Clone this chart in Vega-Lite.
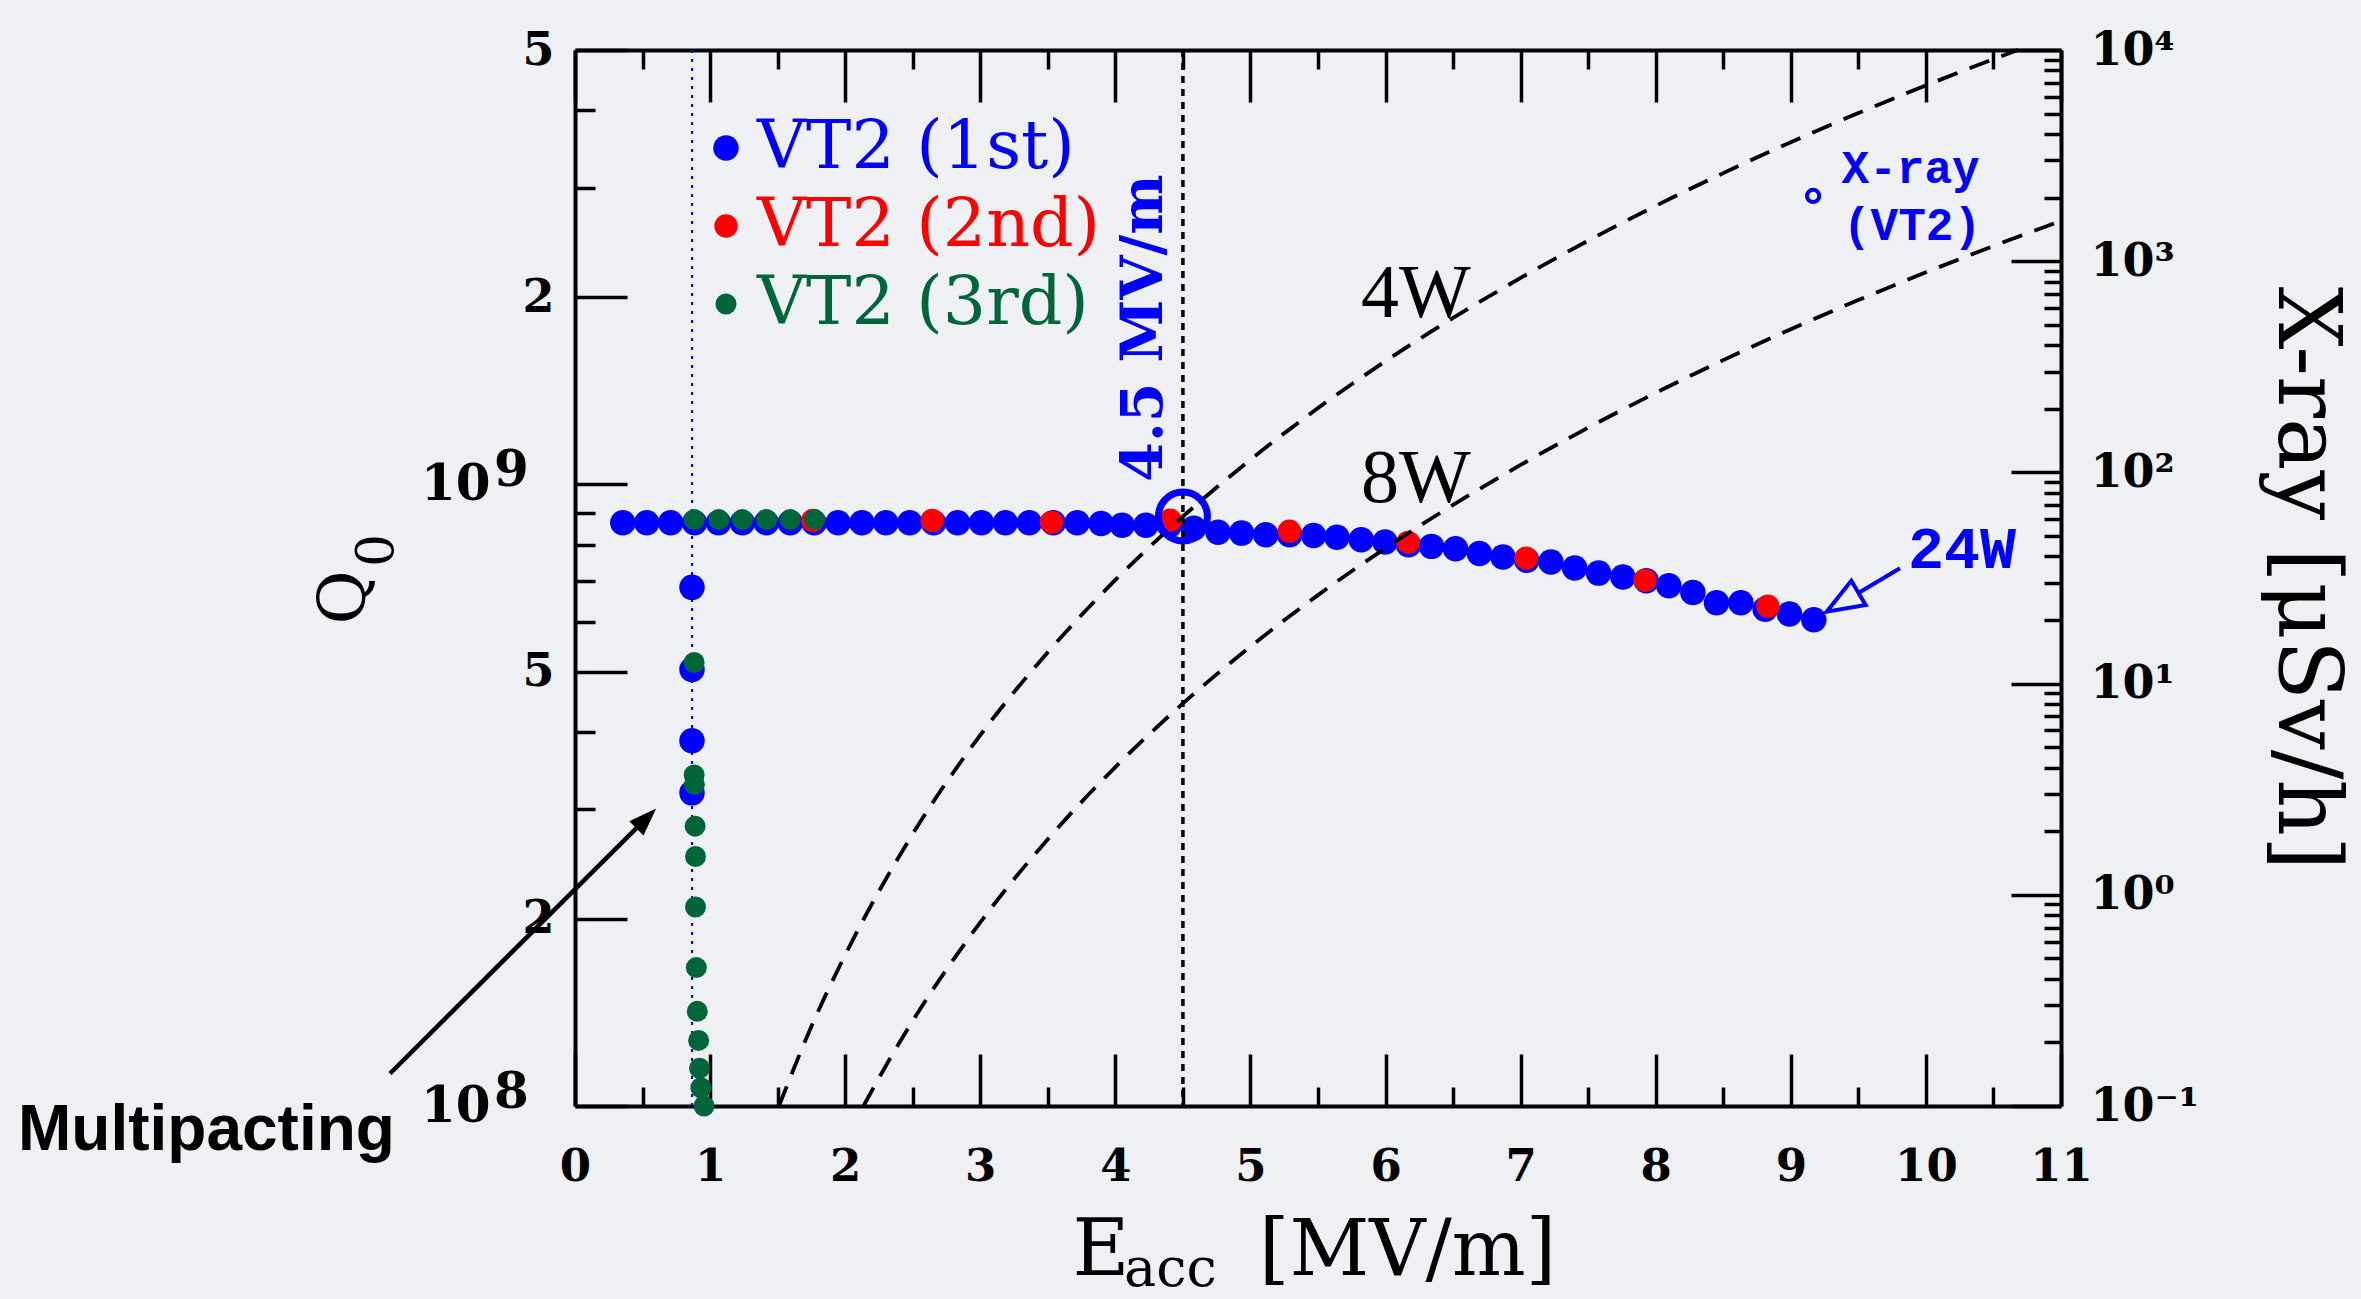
{
  "$schema": "https://vega.github.io/schema/vega-lite/v6.json",
  "width": 1486,
  "height": 1056,
  "autosize": "none",
  "padding": {"left": 575, "top": 50, "right": 300, "bottom": 193},
  "background": "#eef0f3",
  "config": {
    "view": {"stroke": null},
    "axis": {"grid": false, "domainColor": "#000000", "domainWidth": 4, "tickColor": "#000000", "tickWidth": 3.5, "labelFont": "DejaVu Serif", "labelFontWeight": "bold", "labelColor": "#000000", "labelOverlap": false, "labelFlush": false, "labelBound": false, "titleFont": "DejaVu Serif", "titleFontWeight": "normal", "titleColor": "#000000"}
  },
  "datasets": {
    "pts": [
      {"E": 0.354, "Q": 868000000, "series": "VT2 (1st)"},
      {"E": 0.531, "Q": 868000000, "series": "VT2 (1st)"},
      {"E": 0.708, "Q": 868000000, "series": "VT2 (1st)"},
      {"E": 0.885, "Q": 868000000, "series": "VT2 (1st)"},
      {"E": 1.062, "Q": 868000000, "series": "VT2 (1st)"},
      {"E": 1.239, "Q": 868000000, "series": "VT2 (1st)"},
      {"E": 1.416, "Q": 868000000, "series": "VT2 (1st)"},
      {"E": 1.593, "Q": 868000000, "series": "VT2 (1st)"},
      {"E": 1.77, "Q": 868000000, "series": "VT2 (1st)"},
      {"E": 1.947, "Q": 868000000, "series": "VT2 (1st)"},
      {"E": 2.124, "Q": 868000000, "series": "VT2 (1st)"},
      {"E": 2.301, "Q": 868000000, "series": "VT2 (1st)"},
      {"E": 2.478, "Q": 868000000, "series": "VT2 (1st)"},
      {"E": 2.655, "Q": 868000000, "series": "VT2 (1st)"},
      {"E": 2.832, "Q": 868000000, "series": "VT2 (1st)"},
      {"E": 3.009, "Q": 868000000, "series": "VT2 (1st)"},
      {"E": 3.186, "Q": 868000000, "series": "VT2 (1st)"},
      {"E": 3.363, "Q": 868000000, "series": "VT2 (1st)"},
      {"E": 3.54, "Q": 868000000, "series": "VT2 (1st)"},
      {"E": 3.717, "Q": 868000000, "series": "VT2 (1st)"},
      {"E": 3.894, "Q": 865000000, "series": "VT2 (1st)"},
      {"E": 4.05, "Q": 860000000, "series": "VT2 (1st)"},
      {"E": 4.226, "Q": 860000000, "series": "VT2 (1st)"},
      {"E": 4.4, "Q": 860000000, "series": "VT2 (1st)"},
      {"E": 4.58, "Q": 850000000, "series": "VT2 (1st)"},
      {"E": 4.76, "Q": 838000000, "series": "VT2 (1st)"},
      {"E": 4.934, "Q": 835000000, "series": "VT2 (1st)"},
      {"E": 5.113, "Q": 830000000, "series": "VT2 (1st)"},
      {"E": 5.29, "Q": 830000000, "series": "VT2 (1st)"},
      {"E": 5.467, "Q": 828000000, "series": "VT2 (1st)"},
      {"E": 5.64, "Q": 822000000, "series": "VT2 (1st)"},
      {"E": 5.82, "Q": 815000000, "series": "VT2 (1st)"},
      {"E": 5.996, "Q": 808000000, "series": "VT2 (1st)"},
      {"E": 6.17, "Q": 800000000, "series": "VT2 (1st)"},
      {"E": 6.34, "Q": 795000000, "series": "VT2 (1st)"},
      {"E": 6.518, "Q": 788000000, "series": "VT2 (1st)"},
      {"E": 6.695, "Q": 774000000, "series": "VT2 (1st)"},
      {"E": 6.869, "Q": 764000000, "series": "VT2 (1st)"},
      {"E": 7.045, "Q": 755000000, "series": "VT2 (1st)"},
      {"E": 7.224, "Q": 750000000, "series": "VT2 (1st)"},
      {"E": 7.4, "Q": 734000000, "series": "VT2 (1st)"},
      {"E": 7.577, "Q": 720000000, "series": "VT2 (1st)"},
      {"E": 7.757, "Q": 710000000, "series": "VT2 (1st)"},
      {"E": 7.93, "Q": 700000000, "series": "VT2 (1st)"},
      {"E": 8.097, "Q": 687000000, "series": "VT2 (1st)"},
      {"E": 8.275, "Q": 670000000, "series": "VT2 (1st)"},
      {"E": 8.45, "Q": 645000000, "series": "VT2 (1st)"},
      {"E": 8.63, "Q": 645000000, "series": "VT2 (1st)"},
      {"E": 8.81, "Q": 630000000, "series": "VT2 (1st)"},
      {"E": 8.99, "Q": 619000000, "series": "VT2 (1st)"},
      {"E": 9.17, "Q": 606000000, "series": "VT2 (1st)"},
      {"E": 0.866, "Q": 683000000, "series": "VT2 (1st)"},
      {"E": 0.866, "Q": 504000000, "series": "VT2 (1st)"},
      {"E": 0.866, "Q": 387000000, "series": "VT2 (1st)"},
      {"E": 0.866, "Q": 319000000, "series": "VT2 (1st)"},
      {"E": 1.76, "Q": 875000000, "series": "VT2 (2nd)"},
      {"E": 2.643, "Q": 875000000, "series": "VT2 (2nd)"},
      {"E": 3.526, "Q": 869000000, "series": "VT2 (2nd)"},
      {"E": 4.405, "Q": 876000000, "series": "VT2 (2nd)"},
      {"E": 5.288, "Q": 841000000, "series": "VT2 (2nd)"},
      {"E": 6.166, "Q": 807000000, "series": "VT2 (2nd)"},
      {"E": 7.04, "Q": 761000000, "series": "VT2 (2nd)"},
      {"E": 7.92, "Q": 701000000, "series": "VT2 (2nd)"},
      {"E": 8.83, "Q": 637000000, "series": "VT2 (2nd)"},
      {"E": 0.882, "Q": 878000000, "series": "VT2 (3rd)"},
      {"E": 1.064, "Q": 878000000, "series": "VT2 (3rd)"},
      {"E": 1.239, "Q": 878000000, "series": "VT2 (3rd)"},
      {"E": 1.418, "Q": 878000000, "series": "VT2 (3rd)"},
      {"E": 1.593, "Q": 878000000, "series": "VT2 (3rd)"},
      {"E": 1.774, "Q": 878000000, "series": "VT2 (3rd)"},
      {"E": 0.882, "Q": 517000000, "series": "VT2 (3rd)"},
      {"E": 0.882, "Q": 341000000, "series": "VT2 (3rd)"},
      {"E": 0.884, "Q": 329000000, "series": "VT2 (3rd)"},
      {"E": 0.889, "Q": 282000000, "series": "VT2 (3rd)"},
      {"E": 0.892, "Q": 252000000, "series": "VT2 (3rd)"},
      {"E": 0.892, "Q": 209000000, "series": "VT2 (3rd)"},
      {"E": 0.898, "Q": 167000000, "series": "VT2 (3rd)"},
      {"E": 0.905, "Q": 142000000, "series": "VT2 (3rd)"},
      {"E": 0.915, "Q": 127500000, "series": "VT2 (3rd)"},
      {"E": 0.922, "Q": 115000000, "series": "VT2 (3rd)"},
      {"E": 0.932, "Q": 107000000, "series": "VT2 (3rd)"},
      {"E": 0.955, "Q": 100000000, "series": "VT2 (3rd)"}
    ],
    "w4": [
      {"E": 1.51, "Q": 100000000}, {"E": 1.75, "Q": 134300000}, {"E": 2.0, "Q": 175000000},
      {"E": 2.5, "Q": 274000000}, {"E": 3.0, "Q": 395000000}, {"E": 3.5, "Q": 537000000},
      {"E": 4.0, "Q": 702000000}, {"E": 4.5, "Q": 888000000}, {"E": 5.0, "Q": 1096000000},
      {"E": 5.5, "Q": 1327000000}, {"E": 6.0, "Q": 1579000000}, {"E": 6.5, "Q": 1853000000},
      {"E": 7.0, "Q": 2149000000}, {"E": 7.5, "Q": 2467000000}, {"E": 8.0, "Q": 2807000000},
      {"E": 8.5, "Q": 3169000000}, {"E": 9.0, "Q": 3553000000}, {"E": 9.5, "Q": 3958000000},
      {"E": 10.0, "Q": 4386000000}, {"E": 10.68, "Q": 5000000000}
    ],
    "w8": [
      {"E": 2.135, "Q": 100000000}, {"E": 2.35, "Q": 121100000}, {"E": 2.5, "Q": 137100000},
      {"E": 3.0, "Q": 197400000}, {"E": 3.5, "Q": 268700000}, {"E": 4.0, "Q": 351000000},
      {"E": 4.5, "Q": 444300000}, {"E": 5.0, "Q": 548500000}, {"E": 5.5, "Q": 663600000},
      {"E": 6.0, "Q": 789800000}, {"E": 6.5, "Q": 926900000}, {"E": 7.0, "Q": 1075000000},
      {"E": 7.5, "Q": 1234000000}, {"E": 8.0, "Q": 1404000000}, {"E": 8.5, "Q": 1585000000},
      {"E": 9.0, "Q": 1777000000}, {"E": 9.5, "Q": 1980000000}, {"E": 10.0, "Q": 2194000000},
      {"E": 10.5, "Q": 2419000000}, {"E": 11.0, "Q": 2655000000}
    ],
    "lexp": [
      {"Q": 100000000, "t": "8"},
      {"Q": 1000000000, "t": "9"}
    ]
  },
  "layer": [
    {
      "layer": [
        {
          "data": {"values": [{}]},
          "mark": {"type": "rule", "color": "#0000ff", "strokeWidth": 2, "strokeDash": [3, 6]},
          "encoding": {"x": {"datum": 0.866, "type": "quantitative", "scale": {"domain": [0, 11], "nice": false, "zero": false}}}
        },
        {
          "data": {"name": "pts"},
          "mark": {"type": "point", "shape": "circle", "filled": true, "opacity": 1, "strokeWidth": 0},
          "encoding": {
            "x": {"field": "E", "type": "quantitative", "title": null, "scale": {"domain": [0, 11], "nice": false, "zero": false},
              "axis": {"orient": "bottom", "title": null,
                "values": [0,0.25,0.5,0.75,1,1.25,1.5,1.75,2,2.25,2.5,2.75,3,3.25,3.5,3.75,4,4.25,4.5,4.75,5,5.25,5.5,5.75,6,6.25,6.5,6.75,7,7.25,7.5,7.75,8,8.25,8.5,8.75,9,9.25,9.5,9.75,10,10.25,10.5,10.75,11],
                "labelExpr": "datum.value % 1 == 0 ? format(datum.value, 'd') : ''",
                "tickSize": {"condition": {"test": "datum.value % 1 == 0", "value": -52}, "value": -19},
                "labelPadding": 90, "labelFontSize": 45}},
            "y": {"field": "Q", "type": "quantitative", "title": null, "scale": {"type": "log", "domain": [100000000, 5000000000], "nice": false},
              "axis": {"orient": "left", "title": null,
                "values": [100000000,200000000,300000000,400000000,500000000,600000000,700000000,800000000,900000000,1000000000,2000000000,3000000000,4000000000,5000000000],
                "labelExpr": "(datum.value == 100000000 || datum.value == 1000000000) ? '10' : (datum.value == 200000000 || datum.value == 2000000000) ? '2' : (datum.value == 500000000 || datum.value == 5000000000) ? '5' : ''",
                "tickSize": {"condition": {"test": "indexof([100000000,200000000,500000000,1000000000,2000000000,5000000000], datum.value) >= 0", "value": -52}, "value": -20},
                "labelPadding": {"condition": {"test": "datum.value == 100000000 || datum.value == 1000000000", "value": 137}, "value": 73},
                "labelFontSize": {"condition": {"test": "datum.value == 100000000 || datum.value == 1000000000", "value": 50}, "value": 46},
                "labelBaseline": "middle"}},
            "color": {"field": "series", "type": "nominal",
              "scale": {"domain": ["VT2 (1st)", "VT2 (2nd)", "VT2 (3rd)"], "range": ["#0000ff", "#ff0000", "#00663a"]},
              "legend": {"orient": "none", "legendX": 117, "legendY": 64, "title": null, "padding": 0,
                "labelFont": "DejaVu Serif", "labelFontSize": 68, "labelLimit": 0, "labelOffset": -3,
                "symbolSize": 640, "symbolType": "circle", "symbolStrokeWidth": 0, "symbolOpacity": 1, "rowPadding": 10,
                "labelColor": {"expr": "datum.label == 'VT2 (1st)' ? '#0000ff' : datum.label == 'VT2 (2nd)' ? '#ff0000' : '#00663a'"}}},
            "size": {"field": "series", "type": "ordinal", "scale": {"domain": ["VT2 (1st)", "VT2 (2nd)", "VT2 (3rd)"], "range": [650, 440, 650]}, "legend": null}
          }
        },
        {
          "data": {"name": "lexp"},
          "mark": {"type": "text", "font": "DejaVu Serif", "fontWeight": "bold", "fontSize": 50, "color": "#000000", "align": "left", "baseline": "alphabetic", "dy": 2},
          "encoding": {
            "x": {"datum": -0.6, "type": "quantitative"},
            "y": {"field": "Q", "type": "quantitative", "title": null, "scale": {"type": "log", "domain": [100000000, 5000000000], "nice": false}},
            "text": {"field": "t"}
          }
        },
        {
          "data": {"name": "w4"},
          "mark": {"type": "line", "color": "#000000", "strokeWidth": 3.8, "strokeDash": [21, 13], "interpolate": "monotone"},
          "encoding": {
            "x": {"field": "E", "type": "quantitative", "title": null, "scale": {"domain": [0, 11], "nice": false, "zero": false}},
            "y": {"field": "Q", "type": "quantitative", "title": null, "scale": {"type": "log", "domain": [100000000, 5000000000], "nice": false}}
          }
        },
        {
          "data": {"name": "w8"},
          "mark": {"type": "line", "color": "#000000", "strokeWidth": 3.8, "strokeDash": [21, 13], "interpolate": "monotone"},
          "encoding": {
            "x": {"field": "E", "type": "quantitative", "title": null, "scale": {"domain": [0, 11], "nice": false, "zero": false}},
            "y": {"field": "Q", "type": "quantitative", "title": null, "scale": {"type": "log", "domain": [100000000, 5000000000], "nice": false}}
          }
        },
        {
          "data": {"values": [{}]},
          "mark": {"type": "rule", "color": "#000000", "strokeWidth": 3.5, "strokeDash": [7, 6]},
          "encoding": {"x": {"datum": 4.5, "type": "quantitative"}}
        },
        {
          "data": {"values": [{}]},
          "mark": {"type": "point", "shape": "circle", "filled": false, "stroke": "#0000ff", "strokeWidth": 7, "size": 2400, "opacity": 1},
          "encoding": {"x": {"datum": 4.5, "type": "quantitative"}, "y": {"datum": 888000000, "type": "quantitative"}}
        },
        {
          "data": {"values": [{}]},
          "mark": {"type": "text", "text": "4.5 MV/m", "font": "DejaVu Serif", "fontWeight": "bold", "fontSize": 57, "color": "#0000ff", "angle": 270, "align": "center", "baseline": "alphabetic"},
          "encoding": {"x": {"datum": 4.345, "type": "quantitative"}, "y": {"datum": 1785000000, "type": "quantitative"}}
        },
        {
          "data": {"values": [{}]},
          "mark": {"type": "text", "text": "4W", "font": "Liberation Serif", "fontSize": 76, "color": "#000000", "align": "left", "baseline": "alphabetic"},
          "encoding": {"x": {"datum": 5.818, "type": "quantitative"}, "y": {"datum": 1860000000, "type": "quantitative"}}
        },
        {
          "data": {"values": [{}]},
          "mark": {"type": "text", "text": "8W", "font": "Liberation Serif", "fontSize": 76, "color": "#000000", "align": "left", "baseline": "alphabetic"},
          "encoding": {"x": {"datum": 5.818, "type": "quantitative"}, "y": {"datum": 937000000, "type": "quantitative"}}
        },
        {
          "data": {"values": [{}]},
          "mark": {"type": "text", "text": "24W", "font": "Liberation Mono", "fontWeight": "bold", "fontSize": 60, "color": "#0000ff", "align": "left", "baseline": "alphabetic"},
          "encoding": {"x": {"datum": 9.867, "type": "quantitative"}, "y": {"datum": 734000000, "type": "quantitative"}}
        },
        {
          "data": {"values": [{}]},
          "mark": {"type": "rule", "color": "#0000ff", "strokeWidth": 4},
          "encoding": {"x": {"datum": 9.808, "type": "quantitative"}, "y": {"datum": 733000000, "type": "quantitative"},
            "x2": {"datum": 9.5}, "y2": {"datum": 669000000}}
        },
        {
          "data": {"values": [{}]},
          "mark": {"type": "point", "shape": "M0,0L0.38,1L-0.38,1Z", "filled": false, "stroke": "#0000ff", "strokeWidth": 4, "size": 5476, "angle": 239.4, "opacity": 1},
          "encoding": {"x": {"datum": 9.265, "type": "quantitative"}, "y": {"datum": 624000000, "type": "quantitative"}}
        },
        {
          "data": {"values": [{}]},
          "mark": {"type": "rule", "color": "#000000", "strokeWidth": 4.5},
          "encoding": {"x": {"datum": -1.369, "type": "quantitative"}, "y": {"datum": 112800000, "type": "quantitative"},
            "x2": {"datum": 0.455}, "y2": {"datum": 280000000}}
        },
        {
          "data": {"values": [{}]},
          "mark": {"type": "point", "shape": "M0,0L0.36,1L-0.36,1Z", "filled": true, "fill": "#000000", "strokeWidth": 0, "size": 3136, "angle": 45.1, "opacity": 1},
          "encoding": {"x": {"datum": 0.601, "type": "quantitative"}, "y": {"datum": 301000000, "type": "quantitative"}}
        },
        {
          "data": {"values": [{}]},
          "mark": {"type": "text", "text": "Multipacting", "font": "Liberation Sans", "fontWeight": "bold", "fontSize": 64, "color": "#000000", "align": "left", "baseline": "alphabetic"},
          "encoding": {"x": {"datum": -4.123, "type": "quantitative"}, "y": {"datum": 84960000, "type": "quantitative"}}
        },
        {
          "data": {"values": [{}]},
          "mark": {"type": "text", "text": "Q", "font": "DejaVu Serif", "fontSize": 66, "color": "#000000", "angle": 270, "align": "center", "baseline": "alphabetic"},
          "encoding": {"x": {"datum": -1.554, "type": "quantitative"}, "y": {"datum": 658000000, "type": "quantitative"}}
        },
        {
          "data": {"values": [{}]},
          "mark": {"type": "text", "text": "0", "font": "DejaVu Serif", "fontSize": 52, "color": "#000000", "angle": 270, "align": "center", "baseline": "alphabetic"},
          "encoding": {"x": {"datum": -1.347, "type": "quantitative"}, "y": {"datum": 783000000, "type": "quantitative"}}
        },
        {
          "data": {"values": [{}]},
          "mark": {"type": "text", "text": "E", "font": "DejaVu Serif", "fontSize": 78, "color": "#000000", "align": "left", "baseline": "alphabetic"},
          "encoding": {"x": {"datum": 3.682, "type": "quantitative"}, "y": {"datum": 53500000, "type": "quantitative"}}
        },
        {
          "data": {"values": [{}]},
          "mark": {"type": "text", "text": "acc", "font": "DejaVu Serif", "fontSize": 54, "color": "#000000", "align": "left", "baseline": "alphabetic"},
          "encoding": {"x": {"datum": 4.064, "type": "quantitative"}, "y": {"datum": 51300000, "type": "quantitative"}}
        },
        {
          "data": {"values": [{}]},
          "mark": {"type": "text", "text": "[MV/m]", "font": "DejaVu Serif", "fontSize": 78, "color": "#000000", "align": "left", "baseline": "alphabetic"},
          "encoding": {"x": {"datum": 5.063, "type": "quantitative"}, "y": {"datum": 53500000, "type": "quantitative"}}
        }
      ]
    },
    {
      "layer": [
        {
          "data": {"values": [{}]},
          "mark": {"type": "point", "shape": "circle", "filled": false, "stroke": "#0000ff", "strokeWidth": 4, "size": 150, "opacity": 1},
          "encoding": {
            "x": {"datum": 9.165, "type": "quantitative", "scale": {"domain": [0, 11], "nice": false, "zero": false},
              "axis": {"orient": "top", "title": null, "labels": false,
                "values": [0,0.25,0.5,0.75,1,1.25,1.5,1.75,2,2.25,2.5,2.75,3,3.25,3.5,3.75,4,4.25,4.5,4.75,5,5.25,5.5,5.75,6,6.25,6.5,6.75,7,7.25,7.5,7.75,8,8.25,8.5,8.75,9,9.25,9.5,9.75,10,10.25,10.5,10.75,11],
                "tickSize": {"condition": {"test": "datum.value % 1 == 0", "value": -52}, "value": -19}}},
            "y": {"datum": 2037, "type": "quantitative", "scale": {"type": "log", "domain": [0.1, 10000], "nice": false},
              "axis": {"orient": "right", "title": "X-ray [μSv/h]", "titleFontSize": 88, "titlePadding": 62,
                "values": [0.1,0.2,0.3,0.4,0.5,0.6,0.7,0.8,0.9,1,2,3,4,5,6,7,8,9,10,20,30,40,50,60,70,80,90,100,200,300,400,500,600,700,800,900,1000,2000,3000,4000,5000,6000,7000,8000,9000,10000],
                "labelExpr": "datum.value == 10000 ? '10⁴' : datum.value == 1000 ? '10³' : datum.value == 100 ? '10²' : datum.value == 10 ? '10¹' : datum.value == 1 ? '10⁰' : datum.value == 0.1 ? '10⁻¹' : ''",
                "tickSize": {"condition": {"test": "indexof([0.1,1,10,100,1000,10000], datum.value) >= 0", "value": -50}, "value": -17},
                "labelPadding": 79, "labelFontSize": 46, "labelBaseline": "middle"}}
          }
        },
        {
          "data": {"values": [{}]},
          "mark": {"type": "text", "text": "X-ray", "font": "Liberation Mono", "fontWeight": "bold", "fontSize": 46, "color": "#0000ff", "align": "left", "baseline": "alphabetic"},
          "encoding": {"x": {"datum": 9.376, "type": "quantitative"}, "y": {"datum": 2339, "type": "quantitative"}}
        },
        {
          "data": {"values": [{}]},
          "mark": {"type": "text", "text": "(VT2)", "font": "Liberation Mono", "fontWeight": "bold", "fontSize": 46, "color": "#0000ff", "align": "left", "baseline": "alphabetic"},
          "encoding": {"x": {"datum": 9.386, "type": "quantitative"}, "y": {"datum": 1260, "type": "quantitative"}}
        }
      ]
    }
  ],
  "resolve": {"scale": {"x": "independent", "y": "independent"}}
}
